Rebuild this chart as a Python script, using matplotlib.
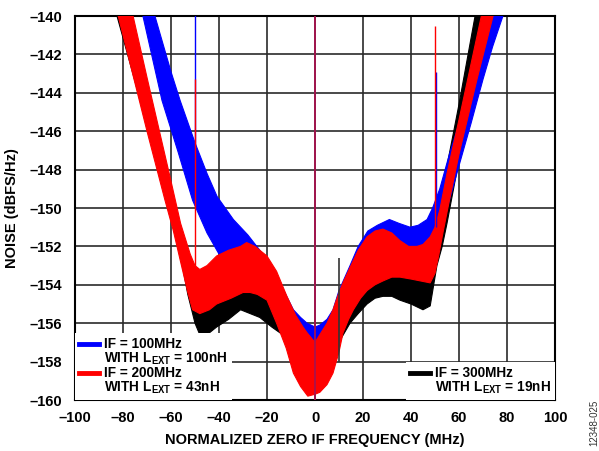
import matplotlib
matplotlib.use('Agg')
import matplotlib.pyplot as plt
from matplotlib.lines import Line2D
import numpy as np

plt.rcParams['font.family'] = ['Liberation Sans', 'DejaVu Sans']
plt.rcParams['font.weight'] = 'bold'
plt.rcParams['mathtext.fontset'] = 'custom'
plt.rcParams['mathtext.rm'] = 'Liberation Sans:bold'
plt.rcParams['mathtext.bf'] = 'Liberation Sans:bold'
plt.rcParams['mathtext.it'] = 'Liberation Sans:bold'

# --- data: noise band envelopes (MHz, dBFS/Hz) ---
# IF = 200MHz (red)
red_up_f = [-90, -80, -75.8, -70, -65, -60, -56, -54, -52, -50, -48, -45, -41, -36, -31, -28.5, -25, -20, -16,
            -11.7, -8, -5, -3.3, 0, 2, 5, 7.5, 10, 12, 14.6, 18, 21.7, 25, 28.3, 32, 35.4, 39, 42.5, 45, 48, 50,
            52, 55, 60, 65, 70, 75, 85]
red_up = [-132.3, -137.7, -140.0, -143.2, -145.9, -148.6, -150.8, -151.6, -152.4, -153.0, -153.2, -153.0, -152.5,
          -152.2, -152.0, -151.8, -152.0, -152.5, -153.3, -154.6, -155.6, -156.2, -156.5, -157.0, -156.6, -156.0,
          -155.3, -154.4, -153.8, -153.1, -152.2, -151.5, -151.2, -151.1, -151.3, -151.7, -152.0, -152.0, -151.9,
          -151.5, -151.0, -150.1, -148.2, -145.4, -142.5, -139.6, -136.8, -131.2]
red_lo_f = [-90, -82, -75, -70, -65, -62.5, -59, -56.2, -53, -51, -48, -44, -41, -35, -30, -27, -24, -20, -16, -12,
            -9, -6, -3, 0, 2, 5, 7.5, 10, 11.7, 14, 16, 19, 21.7, 25, 28.3, 32, 35.4, 40, 44, 48, 50, 51.5, 53.3,
            56, 60, 65, 67.5, 74.2, 85]
red_lo = [-136.0, -140.0, -143.5, -146.0, -148.4, -149.6, -151.2, -152.7, -154.4, -155.3, -155.5, -155.3, -155.0,
          -154.7, -154.4, -154.4, -154.5, -154.8, -156.0, -157.3, -158.6, -159.3, -159.8, -159.7, -159.6, -159.2,
          -158.6, -157.5, -156.5, -155.8, -155.3, -154.7, -154.3, -154.0, -153.8, -153.6, -153.6, -153.7, -153.8,
          -153.9, -153.4, -152.5, -151.3, -149.6, -147.2, -144.6, -143.3, -140.0, -134.3]

# IF = 100MHz (blue)
blue_up_f = [-90, -80, -66.7, -60, -56.2, -50, -45, -40.8, -34, -28, -23, -17.5, -13, -9, -6, -3.3, 0, 2, 5, 7.5,
             10, 14.6, 18, 22, 26, 31, 35, 39.6, 43, 46.7, 49, 52, 56, 60, 65, 70, 75, 85]
blue_up = [-130.0, -134.4, -140.0, -142.9, -144.4, -146.6, -148.2, -149.4, -150.6, -151.4, -152.2, -153.4, -154.3,
           -155.3, -155.7, -156.0, -156.2, -156.1, -155.8, -155.3, -154.3, -153.0, -152.0, -151.2, -150.9, -150.6,
           -150.8, -151.0, -150.9, -150.6, -150.0, -149.0, -147.2, -145.6, -142.8, -140.5, -137.6, -131.6]
blue_lo_f = [-90, -80, -71.7, -63.75, -57, -51, -45, -40, -35, -30, -25, -20, -15, -10, -6, -3, 0, 3, 7.5, 10, 14,
             18, 22, 26, 30, 35, 40, 45, 48, 50, 53, 56, 60, 65, 70, 74, 78.3, 90]
blue_lo = [-131.0, -135.6, -140.0, -144.4, -147.1, -149.6, -151.3, -152.4, -153.0, -153.3, -153.8, -154.6, -155.6,
           -156.6, -157.1, -157.3, -157.4, -157.3, -157.2, -156.5, -155.6, -154.8, -154.2, -153.8, -153.5, -153.4,
           -153.5, -153.6, -153.4, -152.5, -151.0, -149.6, -147.8, -145.6, -143.3, -141.6, -140.0, -135.3]

# IF = 300MHz (black)
black_up_f = [-90, -80, -70, -60, -56, -52, -48, -44, -40, -35, -30, -25, -20, -15, -10, -6, -3, 0, 3, 6, 10, 15,
              20, 25, 30, 35, 40, 45, 48, 51, 55, 60, 66.7, 75, 85]
black_up = [-133.0, -138.5, -144.0, -149.2, -151.5, -153.2, -153.8, -153.7, -153.4, -153.2, -153.1, -153.3, -153.8,
            -154.8, -155.8, -156.5, -156.7, -156.9, -156.6, -156.0, -155.0, -153.8, -153.0, -152.6, -152.5, -152.7,
            -153.0, -153.2, -153.0, -150.2, -147.8, -144.6, -140.0, -134.5, -129.0]
black_lo_f = [-90, -82.5, -75, -64.6, -60, -56, -53, -50, -48, -44, -41, -36, -31, -27, -23, -18, -14.6, -10, -6,
              -3, 0, 3, 6, 9, 14.6, 18, 21.7, 25, 28.3, 32, 35.4, 40, 45, 48, 50.8, 53, 55, 60, 65, 70, 75, 85]
black_lo = [-136.3, -140.0, -143.4, -148.2, -150.4, -152.5, -154.5, -156.0, -156.6, -156.5, -156.2, -155.8, -155.3,
            -155.5, -155.7, -156.2, -156.5, -156.9, -157.4, -158.2, -158.6, -158.4, -158.0, -157.2, -156.0, -155.5,
            -155.0, -154.7, -154.6, -154.6, -154.8, -155.0, -155.3, -155.1, -153.0, -152.0, -150.8, -147.5, -144.5,
            -141.8, -139.0, -133.5]

# spurs: frequency, bottom, top
red_spurs = [(-50, -153.0, -143.3), (50, -152.0, -140.5)]
blue_spurs = [(-50, -148.0, -139.0), (50.3, -151.0, -142.9)]
black_spurs = [(9.8, -158.0, -152.6)]
dc_spur = (0, -160.5, -139.0)

series = [
    ('IF = 100MHz', 'WITH L$_{EXT}$ = 100nH', '#0000ff'),
    ('IF = 200MHz', 'WITH L$_{EXT}$ = 43nH', '#ff0000'),
    ('IF = 300MHz', 'WITH L$_{EXT}$ = 19nH', '#000000'),
]

xticks = list(range(-100, 101, 20))
yticks = list(range(-160, -139, 2))


def dash(v):
    return str(v).replace('-', '\u2013')


fig = plt.figure(figsize=(5.99, 4.51), dpi=100)
ax = fig.add_axes([75 / 599, 1 - 400 / 451, 480 / 599, 384 / 451])

ax.set_xlim(-100, 100)
ax.set_ylim(-160, -140)
ax.set_xticks(xticks)
ax.set_yticks(yticks)
ax.set_xticklabels([dash(v) for v in xticks], fontsize=10.5, fontweight='bold')
ax.set_yticklabels([dash(v) for v in yticks], fontsize=10.5, fontweight='bold')
ax.tick_params(axis='y', length=0, pad=9)
ax.tick_params(axis='x', length=0, pad=8)
ax.grid(True, color='#2a2a2a', lw=1.2)
ax.set_axisbelow(True)
for s in ax.spines.values():
    s.set_linewidth(1.5)


def band(f_up, up, f_lo, lo, color):
    xs = np.concatenate([f_up, f_lo[::-1]])
    ys = np.concatenate([up, lo[::-1]])
    ax.fill(xs, ys, color=color, lw=0.8, zorder=3)


band(black_up_f, black_up, black_lo_f, black_lo, '#000000')
band(blue_up_f, blue_up, blue_lo_f, blue_lo, '#0000ff')
band(red_up_f, red_up, red_lo_f, red_lo, '#ff0000')

for f, lo, hi in black_spurs:
    ax.vlines(f, lo, hi, color='#333333', lw=1.2, zorder=4)
for f, lo, hi in blue_spurs:
    ax.vlines(f, lo, hi, color='#0000ff', lw=1.0, zorder=4)
for f, lo, hi in red_spurs:
    ax.vlines(f, lo, hi, color='#ff0000', lw=1.0, zorder=5)
ax.vlines(dc_spur[0], dc_spur[1], dc_spur[2], color='#a8124e', lw=1.3, zorder=5)

blank = Line2D([], [], color='none')


def make_legend(entries, loc):
    handles, labels = [], []
    for top, bottom, color in entries:
        handles += [Line2D([], [], color=color, lw=3.5), blank]
        labels += [top, bottom]
    leg = ax.legend(handles, labels, loc=loc, bbox_to_anchor=(0, 0, 1, 1), borderaxespad=0,
                    frameon=True, fancybox=False, facecolor='white', edgecolor='none', framealpha=1,
                    prop={'size': 9.8, 'weight': 'bold'}, handlelength=1.45, handletextpad=0.4,
                    handleheight=0.5, labelspacing=-0.05, borderpad=0.3)
    leg.set_zorder(10)
    return leg


leg1 = make_legend(series[:2], 'lower left')
ax.add_artist(leg1)
make_legend(series[2:], 'lower right')

ax.set_xlabel('NORMALIZED ZERO IF FREQUENCY (MHz)', fontsize=10.5, fontweight='bold', labelpad=6)
ax.set_ylabel('NOISE (dBFS/Hz)', fontsize=10.5, fontweight='bold', labelpad=8)

fig.text(0.992, 0.062, '12348-025', rotation=90, fontsize=7, fontweight='normal', ha='center', va='center',
         color='#333333')

fig.savefig('out.png', dpi=100)
